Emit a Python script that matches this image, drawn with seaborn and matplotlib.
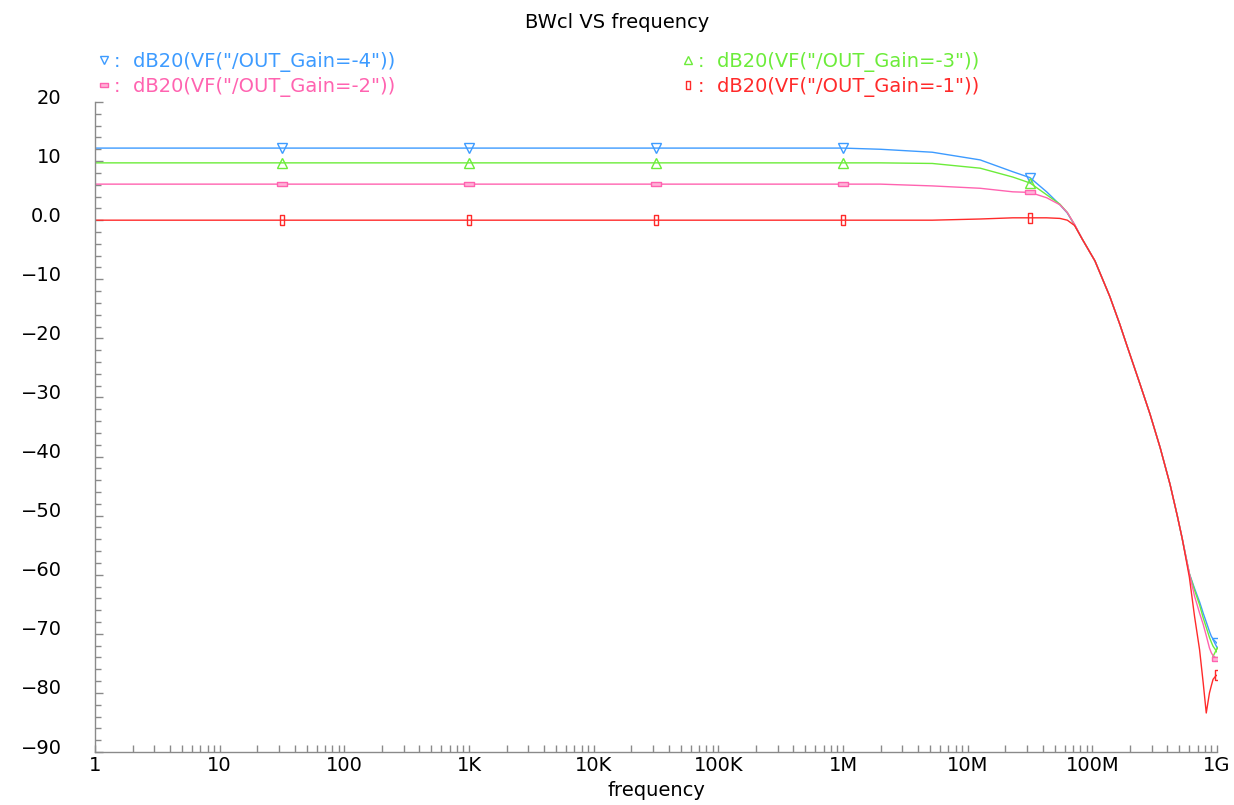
import numpy as np
import pandas as pd
import matplotlib
matplotlib.use("Agg")
import matplotlib.pyplot as plt
import matplotlib.transforms as mtransforms
from matplotlib.ticker import FixedLocator, MultipleLocator, FuncFormatter, LogLocator, NullFormatter
from matplotlib.lines import Line2D
import seaborn as sns

# frequency grid (Hz), shared by all four traces
freq = [1, 31.6, 1e3, 31.6e3, 4.5e5, 1e6, 2e6, 5.2e6, 1.26e7, 2.3e7, 3.16e7,
        4.3e7, 5.5e7, 6.3e7, 7.2e7, 8.3e7, 1.05e8, 1.38e8, 1.66e8, 1.9e8,
        2.4e8, 2.9e8, 3.5e8, 4.2e8, 4.8e8, 5.25e8, 6.0e8, 6.6e8, 7.25e8,
        7.75e8, 8.2e8, 8.7e8, 9.0e8, 9.3e8, 9.8e8, 1e9]

gain_m4 = [12.2, 12.2, 12.2, 12.2, 12.2, 12.2, 12.0, 11.5, 10.2, 8.2, 7.2,
           4.8, 2.6, 1.2, -0.8, -3.2, -6.9, -12.9, -17.6, -21.3,
           -27.6, -32.8, -38.5, -44.7, -50.0, -53.8, -59.8, -62.3, -64.6,
           -66.5, -68.0, -69.6, -70.4, -70.9, -71.4, -71.6]
gain_m3 = [9.7, 9.7, 9.7, 9.7, 9.7, 9.7, 9.7, 9.6, 8.8, 7.3, 6.3,
           4.3, 2.7, 1.3, -0.8, -3.2, -6.9, -12.9, -17.6, -21.3,
           -27.6, -32.8, -38.5, -44.7, -50.0, -53.8, -59.8, -62.6, -65.1,
           -67.3, -68.9, -70.6, -71.4, -72.1, -72.8, -73.1]
gain_m2 = [6.1, 6.1, 6.1, 6.1, 6.1, 6.1, 6.1, 5.8, 5.4, 4.8, 4.7,
           3.8, 2.6, 1.3, -0.7, -3.2, -6.9, -12.9, -17.6, -21.3,
           -27.6, -32.8, -38.5, -44.7, -50.0, -53.8, -59.8, -63.6, -66.5,
           -68.4, -70.3, -72.4, -73.2, -73.7, -74.1, -74.2]
gain_m1 = [0.0, 0.0, 0.0, 0.0, 0.0, 0.0, 0.0, 0.0, 0.2, 0.4, 0.4,
           0.4, 0.3, 0.0, -0.9, -3.2, -6.9, -12.9, -17.6, -21.3,
           -27.6, -32.8, -38.5, -44.7, -50.0, -53.8, -60.4, -67.0, -72.7,
           -78.3, -83.4, -80.0, -78.8, -77.7, -77.1, -77.0]

labels = ['dB20(VF("/OUT_Gain=-4"))', 'dB20(VF("/OUT_Gain=-3"))',
          'dB20(VF("/OUT_Gain=-2"))', 'dB20(VF("/OUT_Gain=-1"))']
colors = ['#3d9bff', '#6cec3a', '#ff63b0', '#ff2a2a']

x_ticks = [1, 10, 100, 1e3, 1e4, 1e5, 1e6, 1e7, 1e8, 1e9]
x_ticklabels = ['1', '10', '100', '1K', '10K', '100K', '1M', '10M', '100M', '1G']
mark_idx = [1, 2, 3, 5, 10, 35]

# marker shapes: open triangles and little rectangles
rect_h = [(-1, -0.45), (1, -0.45), (1, 0.45), (-1, 0.45), (-1, -0.45)]
rect_v = [(-0.4, -1), (0.4, -1), (0.4, 1), (-0.4, 1), (-0.4, -1)]
markers = ['v', '^', rect_h, rect_v]
msizes = [6.5, 6.5, 7, 7.5]
mfcs = ['none', 'none', '#ffb3d8', 'none']

sns.set_style('white')
plt.rcParams['font.family'] = ['DejaVu Sans']

fig = plt.figure(figsize=(12.34, 8.05), dpi=100)
ax = fig.add_axes([95 / 1234, 1 - 752 / 805, (1217 - 95) / 1234, (752 - 102) / 805])

for y, lab, c, m, ms, fc in zip([gain_m4, gain_m3, gain_m2, gain_m1], labels, colors,
                                markers, msizes, mfcs):
    sns.lineplot(x=freq, y=y, ax=ax, color=c, lw=1.0, estimator=None, sort=False,
                 marker=m, markevery=mark_idx, markersize=ms, mfc=fc, mec=c, mew=1.0)

ax.set_xscale('log')
ax.set_xlim(1, 1e9)
ax.set_ylim(-90, 20)

ax.xaxis.set_major_locator(FixedLocator(x_ticks))
ax.xaxis.set_major_formatter(FuncFormatter(lambda v, p: x_ticklabels[int(round(np.log10(v)))]))
ax.xaxis.set_minor_locator(LogLocator(base=10, subs=np.arange(2, 10), numticks=20))
ax.xaxis.set_minor_formatter(NullFormatter())

ax.yaxis.set_major_locator(MultipleLocator(10))
ax.yaxis.set_minor_locator(MultipleLocator(2))
ax.yaxis.set_major_formatter(FuncFormatter(
    lambda v, p: '0.0' if abs(v) < 1e-9 else f'{int(round(v))}'.replace('-', '\u2212')))

for s in ['top', 'right']:
    ax.spines[s].set_visible(False)
for s in ['left', 'bottom']:
    ax.spines[s].set_color('#8a8a8a')
    ax.spines[s].set_linewidth(1.0)

ax.tick_params(axis='both', which='both', direction='in', colors='#8a8a8a', labelcolor='black',
               labelsize=14, left=True, bottom=True, width=1.0)
ax.tick_params(axis='y', which='major', length=6, pad=24)
ax.tick_params(axis='y', which='minor', length=4)
ax.tick_params(axis='x', which='major', length=5, pad=3)
ax.tick_params(axis='x', which='minor', length=5)

# y labels sit a little above their ticks, as in the original plot
offset = mtransforms.ScaledTranslation(0, 0.06, fig.dpi_scale_trans)
for t in ax.yaxis.get_major_ticks():
    t.label1.set_transform(t.label1.get_transform() + offset)

ax.set_xlabel('frequency', fontsize=14, labelpad=4, color='black')
ax.set_ylabel('')
fig.suptitle('BWcl VS frequency', x=0.5, y=1 - 22 / 805, va='center', fontsize=14, color='black')

# legend: two columns across the top
handles = [Line2D([], [], ls='none', marker=m, ms=ms * 0.85, mfc=fc, mec=c, mew=1.0)
           for m, ms, fc, c in zip(markers, msizes, mfcs, colors)]
texts = [':  ' + l for l in labels]
leg_kw = dict(loc='upper left', frameon=False, fontsize=14, handlelength=0.5,
              handletextpad=0.25, labelspacing=0.25, borderpad=0, borderaxespad=0)
fig.legend([handles[0], handles[2]], [texts[0], texts[2]],
           bbox_to_anchor=(99 / 1234, 1 - 52 / 805), labelcolor=[colors[0], colors[2]], **leg_kw)
fig.legend([handles[1], handles[3]], [texts[1], texts[3]],
           bbox_to_anchor=(683 / 1234, 1 - 52 / 805), labelcolor=[colors[1], colors[3]], **leg_kw)

fig.savefig('out.png', dpi=100)
